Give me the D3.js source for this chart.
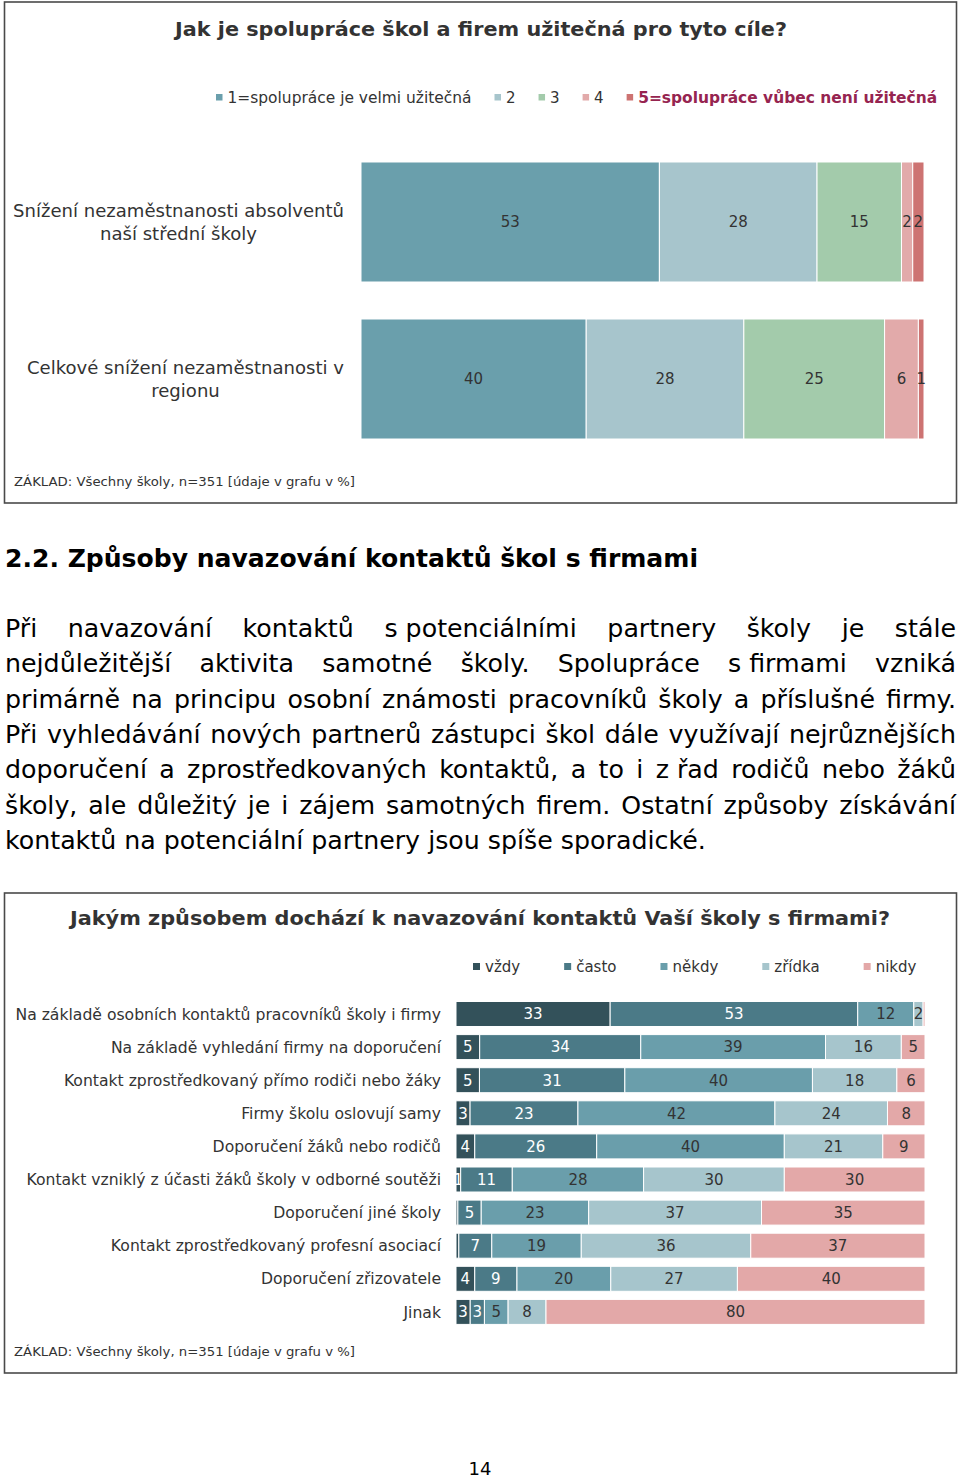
<!DOCTYPE html>
<html><head><meta charset="utf-8">
<script src="https://cdn.jsdelivr.net/npm/d3@7"></script>
<style>body{margin:0;background:#fff}svg{display:block}</style>
</head><body>
<svg id="page" width="960" height="1480"></svg>
<script>
// ---------- DATA: chart 1 ----------
const usefulCategories = [
  ["Snížení nezaměstnanosti absolventů", "naší střední školy"],
  ["Celkové snížení nezaměstnanosti v", "regionu"]
];
const usefulKeys = ["1=spolupráce je velmi užitečná", "2", "3", "4", "5=spolupráce vůbec není užitečná"];
const useful1 = [53, 40];   // 1 = velmi užitečná
const useful2 = [28, 28];
const useful3 = [15, 25];
const useful4 = [2, 6];
const useful5 = [2, 1];     // 5 = vůbec není užitečná

// ---------- DATA: chart 2 ----------
const contactCategories = [
  "Na základě osobních kontaktů pracovníků školy i firmy",
  "Na základě vyhledání firmy na doporučení",
  "Kontakt zprostředkovaný přímo rodiči nebo žáky",
  "Firmy školu oslovují samy",
  "Doporučení žáků nebo rodičů",
  "Kontakt vzniklý z účasti žáků školy v odborné soutěži",
  "Doporučení jiné školy",
  "Kontakt zprostředkovaný profesní asociací",
  "Doporučení zřizovatele",
  "Jinak"
];
const contactKeys = ["vždy", "často", "někdy", "zřídka", "nikdy"];
const vzdy   = [33, 5, 5, 3, 4, 1, 0.4, 0.6, 4, 3];
const casto  = [53, 34, 31, 23, 26, 11, 5, 7, 9, 3];
const nekdy  = [12, 39, 40, 42, 40, 28, 23, 19, 20, 5];
const zridka = [2, 16, 18, 24, 21, 30, 37, 36, 27, 8];
const nikdy  = [0.4, 5, 6, 8, 9, 30, 35, 37, 40, 80];

// ---------- TEXT ----------
const title1 = "Jak je spolupráce škol a firem užitečná pro tyto cíle?";
const title2 = "Jakým způsobem dochází k navazování kontaktů Vaší školy s firmami?";
const baseNote = "ZÁKLAD: Všechny školy, n=351 [údaje v grafu v %]";
const heading = "2.2. Způsoby navazování kontaktů škol s firmami";
const paragraphLines = [
  "Při navazování kontaktů s\u00a0potenciálními partnery školy je stále",
  "nejdůležitější aktivita samotné školy. Spolupráce s\u00a0firmami vzniká",
  "primárně na principu osobní známosti pracovníků školy a příslušné firmy.",
  "Při vyhledávání nových partnerů zástupci škol dále využívají nejrůznějších",
  "doporučení a zprostředkovaných kontaktů, a to i z\u00a0řad rodičů nebo žáků",
  "školy, ale důležitý je i zájem samotných firem. Ostatní způsoby získávání",
  "kontaktů na potenciální partnery jsou spíše sporadické."
];
const pageNumber = "14";

// ---------- RENDER ----------
const FONT = "'DejaVu Sans', Verdana, sans-serif";
const svg = d3.select("#page").style("font-family", FONT);
const TXT = "#333";

function natW(sel) { return sel.node().getComputedTextLength(); }
function condense(sel, k) {
  sel.each(function () {
    const w = this.getComputedTextLength();
    d3.select(this).attr("textLength", w * k).attr("lengthAdjust", "spacingAndGlyphs");
  });
}
function fitTo(sel, w) { sel.attr("textLength", w).attr("lengthAdjust", "spacingAndGlyphs"); }

// Boxes
svg.append("rect").attr("x", 4.5).attr("y", 2).attr("width", 952).attr("height", 501)
  .attr("fill", "none").attr("stroke", "#4a4a4a").attr("stroke-width", 1.6);
svg.append("rect").attr("x", 4.5).attr("y", 893).attr("width", 952).attr("height", 480)
  .attr("fill", "none").attr("stroke", "#4a4a4a").attr("stroke-width", 1.6);

// ===== Chart 1 =====
const c1Colors = ["#6a9fac", "#a7c5cc", "#a3cbab", "#e2aaaa", "#cd7372"];
const c1Table = usefulCategories.map((c, i) => ({
  i, k0: useful1[i], k1: useful2[i], k2: useful3[i], k3: useful4[i], k4: useful5[i]
}));
const c1Stack = d3.stack().keys(["k0", "k1", "k2", "k3", "k4"]).offset(d3.stackOffsetExpand)(c1Table);
const x1 = d3.scaleLinear().domain([0, 1]).range([361, 924]);
const y1 = d3.scaleBand().domain(d3.range(usefulCategories.length)).range([143.5, 457.5])
  .paddingInner(0.2357).paddingOuter(0.1178);

svg.append("text").attr("x", 481).attr("y", 36).attr("text-anchor", "middle")
  .attr("font-weight", "bold").attr("font-size", 19).attr("fill", TXT).text(title1)
  .call(fitTo, 612);

// legend 1
{
  const g = svg.append("g");
  let x = 216;
  const fitW = [244, null, null, null, 299];
  usefulKeys.forEach((k, j) => {
    g.append("rect").attr("x", x).attr("y", 94).attr("width", 6.5).attr("height", 6.5).attr("fill", c1Colors[j]);
    const t = g.append("text").attr("x", x + 11.5).attr("y", 103).attr("font-size", 15)
      .attr("fill", j === 4 ? "#962450" : TXT).attr("font-weight", j === 4 ? "bold" : null).text(k);
    const w = fitW[j] || natW(t);
    if (fitW[j]) fitTo(t, w);
    x = x + 11.5 + w + 23;
  });
}

c1Stack.forEach((layer, j) => {
  svg.append("g").selectAll("rect").data(layer).join("rect")
    .attr("x", d => x1(d[0])).attr("width", d => x1(d[1]) - x1(d[0]))
    .attr("y", d => y1(d.data.i)).attr("height", y1.bandwidth())
    .attr("fill", c1Colors[j]).attr("stroke", "#fff").attr("stroke-width", 1);
  svg.append("g").selectAll("text").data(layer).join("text")
    .attr("x", d => (x1(d[0]) + x1(d[1])) / 2).attr("y", d => y1(d.data.i) + y1.bandwidth() / 2)
    .attr("dy", "0.36em").attr("text-anchor", "middle").attr("font-size", 15).attr("fill", TXT)
    .text(d => d.data["k" + j]);
});

// category labels chart 1 (centered block, right aligned at 344)
{
  const g = svg.append("g");
  const probe = g.append("text").attr("font-size", 18).text(usefulCategories[0][0]);
  const k = 331 / natW(probe);
  probe.remove();
  usefulCategories.forEach((lines, i) => {
    const cy = y1(i) + y1.bandwidth() / 2;
    const ts = lines.map((l, li) => g.append("text").attr("font-size", 18).attr("fill", TXT)
      .attr("text-anchor", "middle").attr("y", cy + (li - (lines.length - 1) / 2) * 23).attr("dy", "0.36em").text(l));
    const maxW = d3.max(ts, t => natW(t)) * k;
    ts.forEach(t => { condense(t, k); t.attr("x", 344 - maxW / 2); });
  });
}

svg.append("text").attr("x", 14).attr("y", 486).attr("font-size", 13).attr("fill", TXT)
  .text(baseNote).call(fitTo, 341);

// ===== Heading & paragraph =====
svg.append("text").attr("x", 5).attr("y", 567).attr("font-size", 25).attr("font-weight", "bold")
  .attr("fill", "#000").text(heading).call(fitTo, 693);

{
  const g = svg.append("g").attr("font-size", 24).attr("fill", "#000");
  const probe = g.append("text").text(paragraphLines[paragraphLines.length - 1]);
  const k = 701 / natW(probe);
  probe.remove();
  const W = 951 / k;
  paragraphLines.forEach((line, i) => {
    const lg = g.append("g").attr("transform", `translate(5,${637 + i * 35.3}) scale(${k},1)`);
    const words = line.split(" ");
    const ts = words.map(w => lg.append("text").text(w));
    const ws = ts.map(t => natW(t));
    const last = i === paragraphLines.length - 1;
    const gap = last ? 24 * 0.318 : (W - d3.sum(ws)) / (words.length - 1);
    let x = 0;
    ts.forEach((t, j) => { t.attr("x", x); x += ws[j] + gap; });
  });
}

// ===== Chart 2 =====
const c2Colors = ["#33515a", "#4b7a87", "#6a9eab", "#a6c5cc", "#e3a8a8"];
const c2LabelColors = ["#fff", "#fff", TXT, TXT, TXT];
const c2Table = contactCategories.map((c, i) => ({
  i, k0: vzdy[i], k1: casto[i], k2: nekdy[i], k3: zridka[i], k4: nikdy[i]
}));
const c2Stack = d3.stack().keys(["k0", "k1", "k2", "k3", "k4"]).offset(d3.stackOffsetExpand)(c2Table);
const x2 = d3.scaleLinear().domain([0, 1]).range([456, 925]);
const y2 = d3.scaleBand().domain(d3.range(contactCategories.length)).range([997.45, 1328.45])
  .paddingInner(0.245).paddingOuter(0.1223);

svg.append("text").attr("x", 480).attr("y", 925).attr("text-anchor", "middle")
  .attr("font-weight", "bold").attr("font-size", 19).attr("fill", TXT).text(title2)
  .call(fitTo, 820);

// legend 2
{
  const g = svg.append("g");
  let x = 473;
  contactKeys.forEach((k, j) => {
    g.append("rect").attr("x", x).attr("y", 963).attr("width", 7).attr("height", 7).attr("fill", c2Colors[j]);
    const t = g.append("text").attr("x", x + 12).attr("y", 972).attr("font-size", 15).attr("fill", TXT).text(k);
    x = x + 12 + natW(t) + 44;
  });
}

c2Stack.forEach((layer, j) => {
  svg.append("g").selectAll("rect").data(layer).join("rect")
    .attr("x", d => x2(d[0])).attr("width", d => x2(d[1]) - x2(d[0]))
    .attr("y", d => y2(d.data.i)).attr("height", y2.bandwidth())
    .attr("fill", c2Colors[j]).attr("stroke", "#fff").attr("stroke-width", 1);
  svg.append("g").selectAll("text").data(layer.filter(d => d.data["k" + j] >= 1)).join("text")
    .attr("x", d => (x2(d[0]) + x2(d[1])) / 2).attr("y", d => y2(d.data.i) + y2.bandwidth() / 2)
    .attr("dy", "0.36em").attr("text-anchor", "middle").attr("font-size", 15).attr("fill", c2LabelColors[j])
    .text(d => d.data["k" + j]);
});

{
  const g = svg.append("g");
  const probe = g.append("text").attr("font-size", 15).text(contactCategories[0]);
  const fs = 15 * 426 / natW(probe);
  probe.remove();
  g.selectAll("text").data(contactCategories).join("text")
    .attr("x", 441).attr("y", (d, i) => y2(i) + y2.bandwidth() / 2).attr("dy", "0.36em")
    .attr("text-anchor", "end").attr("font-size", fs).attr("fill", TXT).text(d => d);
}

svg.append("text").attr("x", 14).attr("y", 1356).attr("font-size", 13).attr("fill", TXT)
  .text(baseNote).call(fitTo, 341);

svg.append("text").attr("x", 480).attr("y", 1475).attr("text-anchor", "middle").attr("font-size", 18)
  .attr("fill", "#000").text(pageNumber);
</script>
</body></html>
